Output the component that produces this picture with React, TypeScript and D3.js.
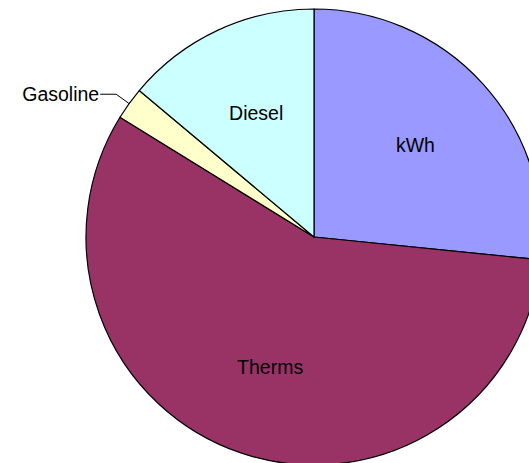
import React from "react";
import * as d3 from "d3";

const categories = ["kWh", "Therms", "Gasoline", "Diesel"];
const values = [26.6, 57.2, 2.3, 13.9];
const colors = ["#9999FF", "#993366", "#FFFFCC", "#CCFFFF"];
const outsideLabels = ["Gasoline"];

const W = 529;
const H = 463;
const cx = 314;
const cy = 237;
const R = 228;

export default function App() {
  const data = categories.map((c, i) => ({ name: c, value: values[i], color: colors[i] }));
  const pie = d3.pie<any>().sort(null).value((d: any) => d.value);
  const arcs = pie(data);
  const arc = d3.arc<any>().innerRadius(0).outerRadius(R);
  const labelArc = d3.arc<any>().innerRadius(R * 0.6).outerRadius(R * 0.6);
  const font = "Liberation Sans, Arial, sans-serif";
  const fs = 19.5;
  return (
    <svg width={W} height={H} style={{ position: "absolute", left: 0, top: 0, background: "#fff" }}>
      <g transform={`translate(${cx},${cy})`}>
        {arcs.map((a, i) => (
          <path key={i} d={arc(a) as string} fill={a.data.color} stroke="#000" strokeWidth={1.2} strokeLinejoin="round" />
        ))}
        {arcs.map((a, i) => {
          const mid = (a.startAngle + a.endAngle) / 2;
          if (outsideLabels.includes(a.data.name)) {
            const p0 = [Math.sin(mid) * R, -Math.cos(mid) * R];
            const p1 = [Math.sin(mid) * R * 1.07, -Math.cos(mid) * R * 1.07];
            const p2 = [p1[0] - 16, p1[1]];
            return (
              <g key={"l" + i}>
                <polyline points={`${p0[0]},${p0[1]} ${p1[0]},${p1[1]} ${p2[0]},${p2[1]}`} fill="none" stroke="#000" strokeWidth={1} />
                <text x={p2[0] - 1} y={p2[1]} textAnchor="end" dominantBaseline="central" fontFamily={font} fontSize={fs} fill="#000">
                  {a.data.name}
                </text>
              </g>
            );
          }
          const [lx, ly] = labelArc.centroid(a);
          return (
            <text key={"l" + i} x={lx} y={ly} textAnchor="middle" dominantBaseline="central" fontFamily={font} fontSize={fs} fill="#000">
              {a.data.name}
            </text>
          );
        })}
      </g>
    </svg>
  );
}
